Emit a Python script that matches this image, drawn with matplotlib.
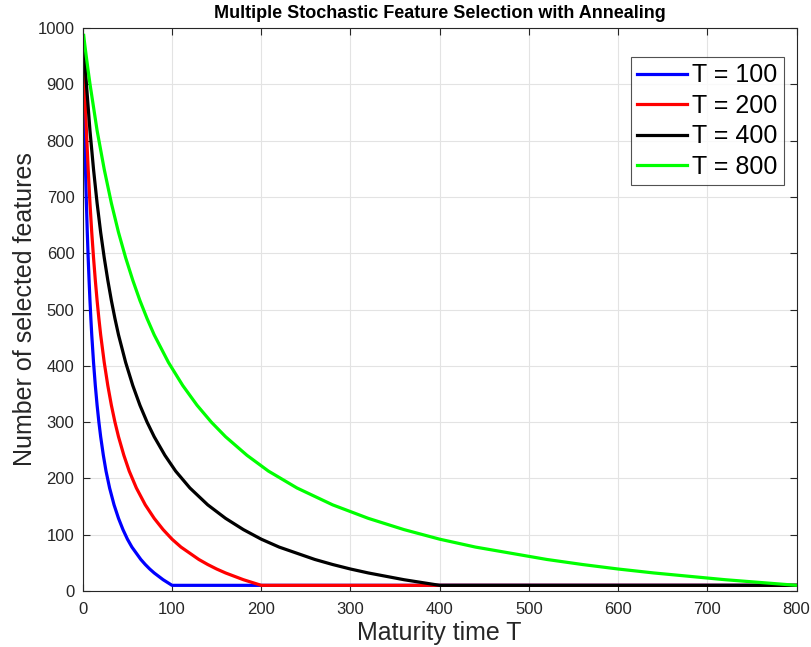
import matplotlib
matplotlib.use("Agg")
import matplotlib.pyplot as plt
from matplotlib import font_manager

# Sampled readings (iteration, number of selected features)
x_t100 = [1, 2, 3, 4, 5, 6, 7, 8, 9, 10, 12, 14, 16, 18, 20, 23, 26, 30, 35, 40, 45, 50,
          55, 60, 65, 70, 75, 80, 85, 90, 95, 100, 800]
y_t100 = [901, 818, 749, 689, 637, 592, 552, 516, 484, 455, 406, 365, 330, 300, 274, 241, 213,
          183, 153, 129, 109, 92, 78, 67, 56, 47, 39, 32, 26, 20, 15, 10, 10]

x_t200 = [1, 2, 4, 6, 8, 10, 12, 14, 16, 18, 20, 24, 28, 32, 36, 40, 46, 52, 60, 70, 80, 90,
          100, 110, 120, 130, 140, 150, 160, 170, 180, 190, 200, 800]
y_t200 = [948, 901, 818, 749, 689, 637, 592, 552, 516, 484, 455, 406, 365, 330, 300, 274, 241,
          213, 183, 153, 129, 109, 92, 78, 67, 56, 47, 39, 32, 26, 20, 15, 10, 10]

x_t400 = [1, 2, 3, 4, 8, 12, 16, 20, 24, 28, 32, 36, 40, 48, 56, 64, 72, 80, 92, 104, 120, 140,
          160, 180, 200, 220, 240, 260, 280, 300, 320, 340, 360, 380, 400, 800]
y_t400 = [973, 948, 924, 901, 818, 749, 689, 637, 592, 552, 516, 484, 455, 406, 365, 330, 300,
          274, 241, 213, 183, 153, 129, 109, 92, 78, 67, 56, 47, 39, 32, 26, 20, 15, 10, 10]

x_t800 = [1, 2, 4, 6, 8, 16, 24, 32, 40, 48, 56, 64, 72, 80, 96, 112, 128, 144, 160, 184, 208,
          240, 280, 320, 360, 400, 440, 480, 520, 560, 600, 640, 680, 720, 760, 800]
y_t800 = [987, 973, 948, 924, 901, 818, 749, 689, 637, 592, 552, 516, 484, 455, 406, 365, 330,
          300, 274, 241, 213, 183, 153, 129, 109, 92, 78, 67, 56, 47, 39, 32, 26, 20, 15, 10]

labels = ["T = 100", "T = 200", "T = 400", "T = 800"]
colors = ["#0000ff", "#ff0000", "#000000", "#00ff00"]
xticks = [0, 100, 200, 300, 400, 500, 600, 700, 800]
yticks = [0, 100, 200, 300, 400, 500, 600, 700, 800, 900, 1000]

plt.rcParams['font.family'] = ['Liberation Sans', 'DejaVu Sans']

fig = plt.figure(figsize=(8.12, 6.47), dpi=100)
ax = fig.add_axes([0.102, 0.0866, 0.879, 0.870])

series = [(x_t100, y_t100), (x_t200, y_t200), (x_t400, y_t400), (x_t800, y_t800)]
for (xs, ys), lab, col in zip(series, labels, colors):
    ax.plot(xs, ys, color=col, lw=2.3, label=lab, solid_joinstyle='round')

ax.set_xlim(0, 800)
ax.set_ylim(0, 1000)
ax.set_xticks(xticks)
ax.set_yticks(yticks)
ax.grid(True, color='#e3e3e3', lw=0.8)
ax.set_axisbelow(True)
ax.tick_params(direction='in', top=True, right=True, labelsize=12, colors='#262626',
               length=5, width=0.8)
ax.tick_params(axis='x', pad=8)
ax.tick_params(axis='y', pad=6)
for s in ax.spines.values():
    s.set_color('#262626')
    s.set_linewidth(0.8)

ax.set_xlabel("Maturity time T", fontsize=18, color='#262626', labelpad=3)
ax.set_ylabel("Number of selected features", fontsize=18, color='#262626', labelpad=0)

names = {f.name for f in font_manager.fontManager.ttflist}
title_family = ['Liberation Sans Narrow', 'Liberation Sans'] if 'Liberation Sans Narrow' in names else ['Liberation Sans']
title_size = 16 if 'Liberation Sans Narrow' in names else 13
ax.set_title("Multiple Stochastic Feature Selection with Annealing", fontsize=title_size,
             fontweight='bold', family=title_family, pad=7)

leg = ax.legend(loc='upper right', bbox_to_anchor=(0.982, 0.9485), fontsize=18, frameon=True,
                fancybox=False, edgecolor='#262626', handlelength=2.0, handletextpad=0.2,
                borderaxespad=0.0, labelspacing=0.26, borderpad=0.25)
leg.get_frame().set_linewidth(0.8)

fig.savefig("out.png", dpi=100)
